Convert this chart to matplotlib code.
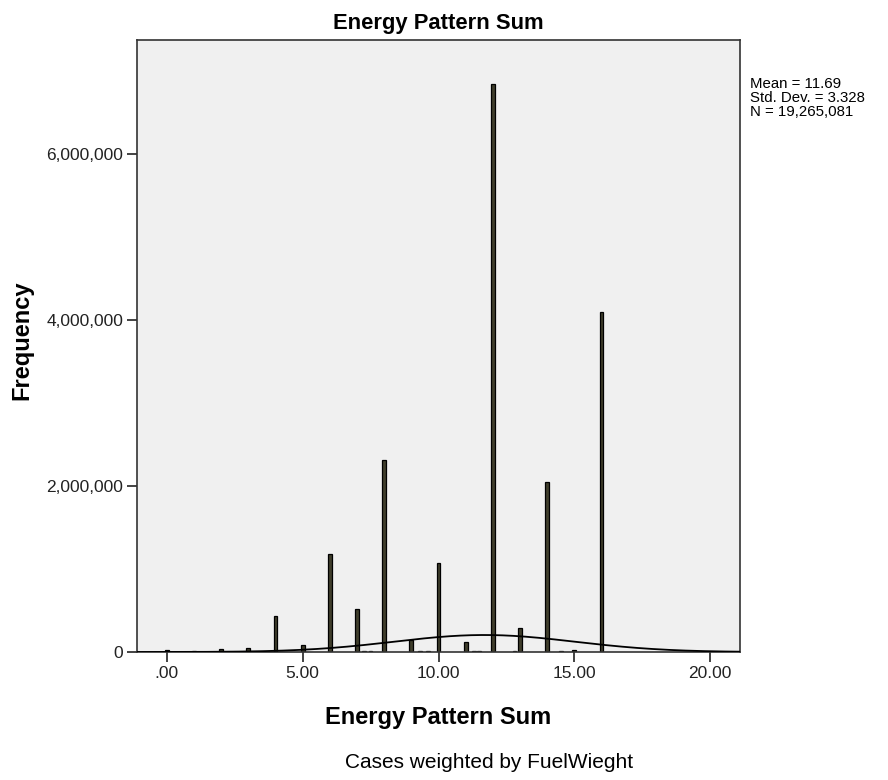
import numpy as np
import matplotlib
matplotlib.use("Agg")
import matplotlib.pyplot as plt
from matplotlib.ticker import FuncFormatter

plt.rcParams['font.family'] = ['Liberation Sans', 'DejaVu Sans']

# Data
values = [0, 1, 2, 3, 4, 5, 6, 7, 7.25, 7.5, 8, 9, 9.33, 9.6, 10, 11, 11.3, 11.5,
          12, 12.8, 13, 14, 14.5, 15, 16]
freqs = [30000, 12000, 40000, 50000, 430000, 80000, 1180000, 520000, 15000, 15000,
         2310000, 140000, 15000, 15000, 1070000, 120000, 15000, 15000,
         6840000, 15000, 290000, 2050000, 15000, 30000, 4100000]
mean_val = 11.69
std_val = 3.328
n_val = 19265081
bin_width = 0.0886
x_ticks = [0, 5, 10, 15, 20]
x_ticklabels = ['.00', '5.00', '10.00', '15.00', '20.00']
y_ticks = [0, 2000000, 4000000, 6000000]

fig = plt.figure(figsize=(8.88, 7.8), dpi=100)
ax = fig.add_axes([137/888, 1-652/780, (740-137)/888, (652-40)/780])
ax.set_facecolor('#f0f0f0')

ax.bar(values, freqs, width=0.14, color='#403e2c', edgecolor='black', linewidth=0.9, zorder=2)

xs = np.linspace(-1.1, 21.1, 400)
pdf = n_val * bin_width / (std_val * np.sqrt(2 * np.pi)) * np.exp(-0.5 * ((xs - mean_val) / std_val) ** 2)
ax.plot(xs, pdf, color='black', linewidth=1.3, zorder=3)

ax.set_xlim(-1.1, 21.1)
ax.set_ylim(0, 7370000)
ax.set_xticks(x_ticks)
ax.set_xticklabels(x_ticklabels)
ax.set_yticks(y_ticks)
ax.yaxis.set_major_formatter(FuncFormatter(lambda v, p: f"{int(v):,}"))
ax.tick_params(axis='both', direction='out', length=7, width=1.2, labelsize=12.5,
               colors='#222222', labelcolor='#222222', pad=3)
for s in ax.spines.values():
    s.set_color('#333333')
    s.set_linewidth(1.2)

ax.set_title('Energy Pattern Sum', fontsize=15.8, fontweight='bold', pad=8)
ax.set_xlabel('Energy Pattern Sum', fontsize=17, fontweight='bold', labelpad=18)
ax.set_ylabel('Frequency', fontsize=17, fontweight='bold')
ax.yaxis.set_label_coords((33 - 137) / 603, 0.51)

fig.text(750/888, 1-77/780, f"Mean = {mean_val}\nStd. Dev. = {std_val}\nN = {n_val:,}",
         fontsize=10.8, va='top', ha='left', linespacing=1.02)
fig.text(489/888, 1-763/780, 'Cases weighted by FuelWieght', fontsize=15, ha='center', va='center')

fig.savefig('out.png', dpi=100, facecolor='white')
